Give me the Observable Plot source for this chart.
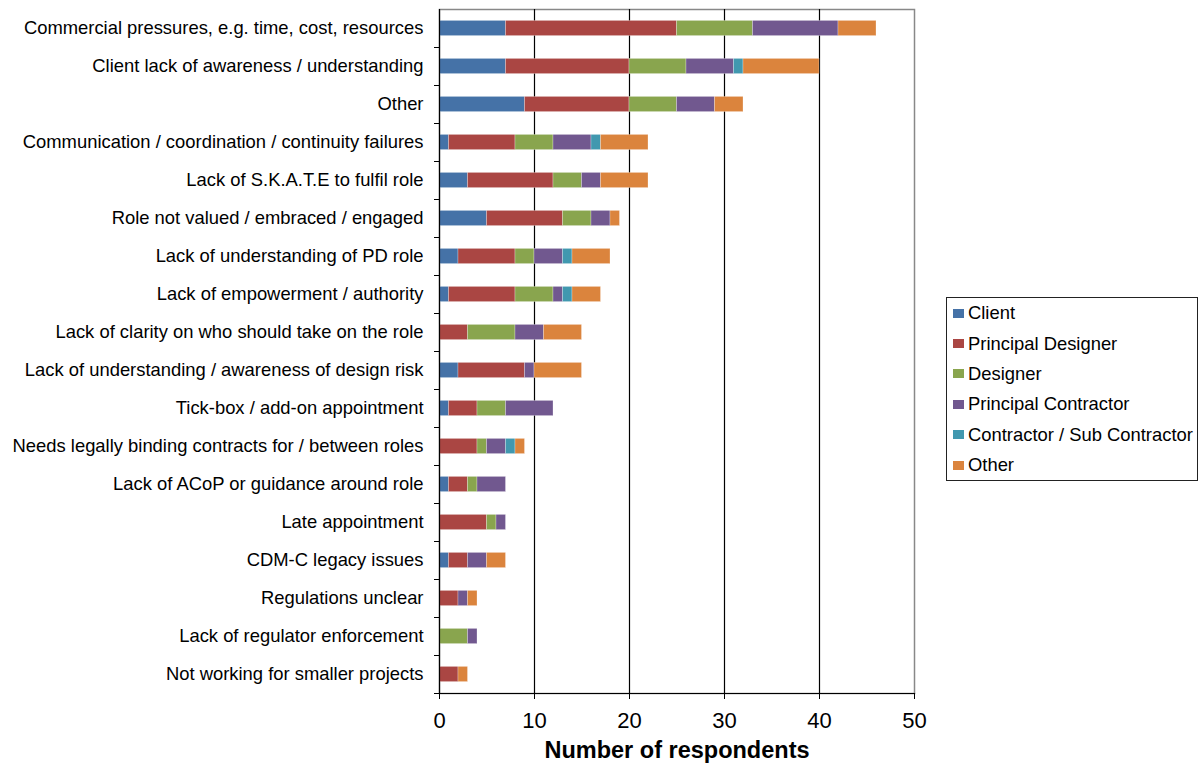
<!DOCTYPE html>
<html>
<head>
<meta charset="utf-8">
<script src="https://cdn.jsdelivr.net/npm/d3@7"></script>
<script src="https://cdn.jsdelivr.net/npm/@observablehq/plot@0.6"></script>
<style>
  html, body { margin: 0; padding: 0; background: #fff; }
  #wrap { position: relative; width: 1198px; height: 766px; font-family: "Liberation Sans", Arial, sans-serif; }
  #legend { position: absolute; left: 946px; top: 297px; width: 252px; height: 184px; border: 1px solid #222; box-sizing: border-box; padding-top: 0; }
  .item { display: flex; align-items: center; height: 30.4px; font-size: 18.4px; color: #000; white-space: nowrap; }
  .sw { width: 11px; height: 9px; margin: 0 4px 0 6px; flex: none; }
</style>
</head>
<body>
<div id="wrap"></div>
<script>
// Reasons given, top to bottom
const reasons = [
  "Commercial pressures, e.g. time, cost, resources",
  "Client lack of awareness / understanding",
  "Other",
  "Communication / coordination / continuity failures",
  "Lack of S.K.A.T.E to fulfil role",
  "Role not valued / embraced / engaged",
  "Lack of understanding of PD role",
  "Lack of empowerment / authority",
  "Lack of clarity on who should take on the role",
  "Lack of understanding / awareness of design risk",
  "Tick-box / add-on appointment",
  "Needs legally binding contracts for / between roles",
  "Lack of ACoP or guidance around role",
  "Late appointment",
  "CDM-C legacy issues",
  "Regulations unclear",
  "Lack of regulator enforcement",
  "Not working for smaller projects"
];

// Respondent groups (stack order) and their colours
const groups = ["Client", "Principal Designer", "Designer", "Principal Contractor", "Contractor / Sub Contractor", "Other"];
const groupColors = ["#4572A7", "#AA4643", "#89A54E", "#71588F", "#4198AF", "#DB843D"];

// Counts per group, one entry per reason (same order as reasons)
const client               = [7, 7, 9, 1, 3, 5, 2, 1, 0, 2, 1, 0, 1, 0, 1, 0, 0, 0];
const principalDesigner    = [18, 13, 11, 7, 9, 8, 6, 7, 3, 7, 3, 4, 2, 5, 2, 2, 0, 2];
const designer             = [8, 6, 5, 4, 3, 3, 2, 4, 5, 0, 3, 1, 1, 1, 0, 0, 3, 0];
const principalContractor  = [9, 5, 4, 4, 2, 2, 3, 1, 3, 1, 5, 2, 3, 1, 2, 1, 1, 0];
const contractorSub        = [0, 1, 0, 1, 0, 0, 1, 1, 0, 0, 0, 1, 0, 0, 0, 0, 0, 0];
const otherGroup           = [4, 8, 3, 5, 5, 1, 4, 3, 4, 5, 0, 1, 0, 0, 2, 1, 0, 1];

const xTicks = [0, 10, 20, 30, 40, 50];

const seriesValues = [client, principalDesigner, designer, principalContractor, contractorSub, otherGroup];
const rows = [];
reasons.forEach((r, i) => {
  groups.forEach((g, j) => rows.push({reason: r, group: g, count: seriesValues[j][i]}));
});

const chart = Plot.plot({
  width: 1198,
  height: 766,
  marginLeft: 439,
  marginRight: 284,
  marginTop: 9,
  marginBottom: 73,
  style: {fontFamily: "'Liberation Sans', Arial, sans-serif", color: "#000", background: "#fff"},
  x: {domain: [0, 50], ticks: xTicks},
  y: {domain: reasons, paddingInner: 0.6, paddingOuter: 0.3, round: false, label: null},
  color: {domain: groups, range: groupColors},
  marks: [
    Plot.frame({stroke: "#888", strokeWidth: 1.5}),
    Plot.gridX({ticks: [10, 20, 30, 40], stroke: "#000", strokeOpacity: 1, strokeWidth: 1.2}),
    Plot.barX(rows, {
      x: "count", y: "reason", fill: "group", order: groups,
      stroke: "#fff", strokeOpacity: 0.45, strokeWidth: 0.6
    }),
    Plot.ruleX([0], {stroke: "#000", strokeWidth: 1.2}),
    Plot.frame({anchor: "bottom", stroke: "#000", strokeWidth: 1.2}),
    Plot.axisX({ticks: xTicks, tickSize: 6, tickPadding: 13, fontSize: 22, label: null, stroke: "#000"}),
    Plot.axisY({tickSize: 5, dy: 19, tickFormat: () => "", label: null}),
    Plot.axisY({tickSize: 0, tickPadding: 16, fontSize: 18.4, label: null}),
    Plot.text(["Number of respondents"], {
      frameAnchor: "bottom", dy: 64, fontWeight: "bold", fontSize: 23.5, fill: "#000"
    })
  ]
});

const wrap = document.getElementById("wrap");
wrap.appendChild(chart);

const legend = document.createElement("div");
legend.id = "legend";
groups.forEach((g, i) => {
  const item = document.createElement("div");
  item.className = "item";
  const sw = document.createElement("span");
  sw.className = "sw";
  sw.style.background = groupColors[i];
  const label = document.createElement("span");
  label.textContent = g;
  item.appendChild(sw);
  item.appendChild(label);
  legend.appendChild(item);
});
wrap.appendChild(legend);
</script>
</body>
</html>
